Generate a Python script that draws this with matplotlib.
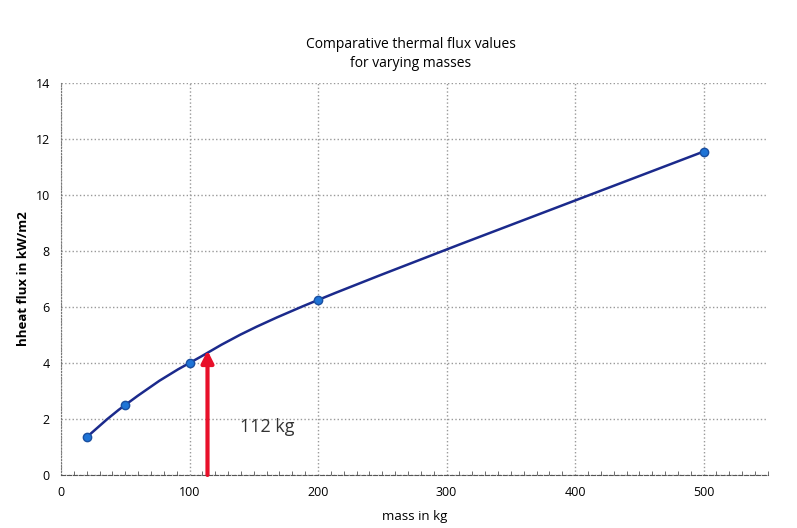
import matplotlib
matplotlib.use("Agg")
import matplotlib.pyplot as plt
from matplotlib.path import Path
from matplotlib.patches import PathPatch
from matplotlib.ticker import MultipleLocator

mass = [20, 50, 100, 200, 500]
flux = [1.35, 2.5, 4.0, 6.25, 11.55]
marked_mass = 114
marked_flux = 4.45
marked_label = "112 kg"

plt.rcParams["font.family"] = ["Open Sans", "DejaVu Sans"]

fig = plt.figure(figsize=(7.97, 5.28), dpi=100)
ax = fig.add_axes([0.0765, 0.1004, 0.887, 0.7425])

# smoothed line through the points (Catmull-Rom as cubic Bezier segments)
verts = [(mass[0], flux[0])]
codes = [Path.MOVETO]
n = len(mass)
for i in range(n - 1):
    p0 = (mass[max(i - 1, 0)], flux[max(i - 1, 0)])
    p1 = (mass[i], flux[i])
    p2 = (mass[i + 1], flux[i + 1])
    p3 = (mass[min(i + 2, n - 1)], flux[min(i + 2, n - 1)])
    c1 = (p1[0] + (p2[0] - p0[0]) / 6, p1[1] + (p2[1] - p0[1]) / 6)
    c2 = (p2[0] - (p3[0] - p1[0]) / 6, p2[1] - (p3[1] - p1[1]) / 6)
    verts += [c1, c2, p2]
    codes += [Path.CURVE4] * 3
ax.add_patch(PathPatch(Path(verts, codes), facecolor="none",
                       edgecolor="#1b2a8c", lw=1.8, zorder=3))
ax.plot(mass, flux, linestyle="none", marker="o", markersize=6,
        markerfacecolor="#1f74d6", markeredgecolor="#1a4fa0", zorder=4)

ax.annotate("", xy=(marked_mass, marked_flux), xytext=(marked_mass, 0),
            arrowprops=dict(arrowstyle="-|>", color="#e8102a", lw=3,
                            mutation_scale=18, shrinkA=0, shrinkB=0),
            zorder=5)
ax.text(139, 1.7, marked_label, fontsize=13, color="#333333",
        va="center", ha="left")

ax.set_xlim(0, 550)
ax.set_ylim(0, 14)
ax.set_xticks([0, 100, 200, 300, 400, 500])
ax.set_yticks(range(0, 15, 2))
ax.xaxis.set_minor_locator(MultipleLocator(10))
ax.tick_params(axis="x", which="minor", direction="in", length=3, color="#555555")
ax.tick_params(axis="both", which="major", length=0, labelsize=9, pad=8)
ax.grid(True, which="major", color="#999999", linestyle=":", lw=1)

for side in ["top", "right"]:
    ax.spines[side].set_visible(False)
ax.spines["left"].set_color("#777777")
ax.spines["left"].set_linestyle(":")
ax.spines["bottom"].set_color("#555555")
ax.spines["bottom"].set_linestyle("--")

ax.set_xlabel("mass in kg", fontsize=9.5, labelpad=8)
ax.set_ylabel("hheat flux in kW/m2", fontsize=9.5, fontweight="bold", labelpad=4)
fig.text(0.515, 0.898, "Comparative thermal flux values\nfor varying masses",
         ha="center", va="center", fontsize=10, linespacing=1.4)

fig.savefig("out.png", dpi=100, facecolor="white")
